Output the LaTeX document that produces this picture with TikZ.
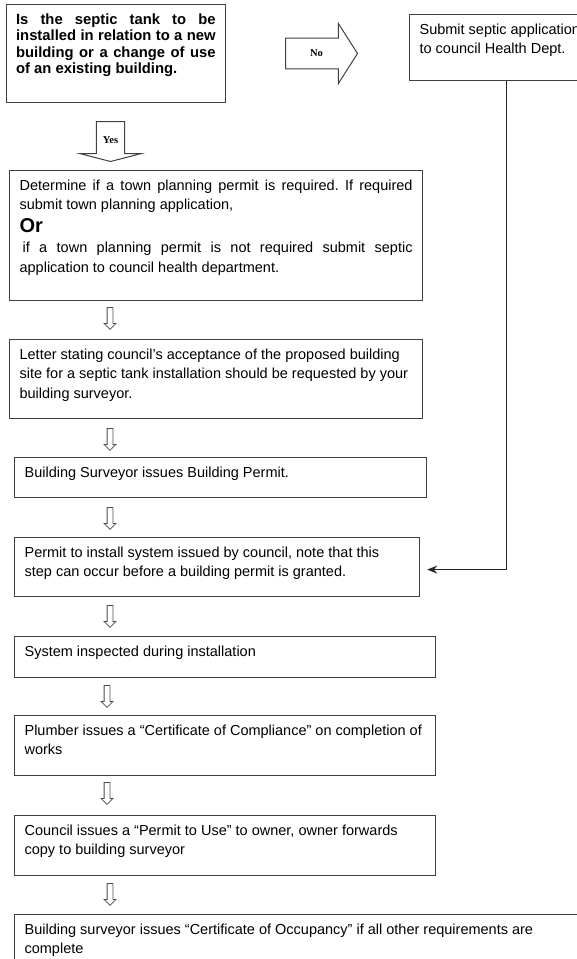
\documentclass[tikz,border=0pt]{standalone}
\usepackage{fontspec}
\setmainfont{Liberation Sans}
\newfontfamily\arrowfont{Liberation Serif}
\usetikzlibrary{shapes.arrows,arrows.meta}
\frenchspacing

% box text: outer width, outer height, text
\newcommand{\steptext}[3]{\parbox[t][\dimexpr#2pt-18pt\relax][t]{\dimexpr#1pt-20pt\relax}{#3}}

\tikzset{
  stepbox/.style={draw=black!75, line width=1.2pt, anchor=north west, inner xsep=10pt, inner ysep=9pt,
    font=\fontsize{14.5}{19.5}\selectfont},
  hollowdown/.style={single arrow, draw=black!70, line width=0.8pt, shape border rotate=270,
    minimum height=22pt, inner sep=2.5pt, single arrow head extend=3pt, anchor=tail},
  bigarrow/.style={single arrow, draw=black!75, line width=1pt, anchor=tail,
    font=\arrowfont\bfseries\fontsize{10.5}{12}\selectfont},
  link/.style={draw=black!85, line width=1.5pt, -{Stealth[length=10pt,width=8pt]}},
}

\begin{document}
\begin{tikzpicture}[x=1pt,y=1pt]
\useasboundingbox (0,0) rectangle (576,-959);

\node[stepbox] (ask) at (5.5,-4) {\steptext{219.5}{98}{\bfseries\fontsize{14.8}{16.5}\selectfont
  Is the septic tank to be\linebreak installed in relation to a new\linebreak
  building or a change of use\linebreak of an existing building.}};
\node[stepbox] (health) at (409,-14) {\steptext{194}{66}{Submit septic application\\ to council Health Dept.}};

\node[bigarrow, minimum height=72pt, inner xsep=3pt, inner ysep=11.5pt,
  single arrow head extend=14.5pt, single arrow tip angle=115] (no) at (285,-53.5) {No};
\node[bigarrow, shape border rotate=270, minimum height=40pt, inner xsep=6pt, inner ysep=4pt,
  single arrow head extend=16.5pt, single arrow tip angle=151] (yes) at (110.5,-121) {Yes};

\node[stepbox] (planning) at (9,-170) {\steptext{413}{130}{%
  Determine if a town planning permit is required. If required\linebreak
  submit town planning application,\\[3pt]
  {\bfseries\fontsize{20}{22}\selectfont Or}\\[1pt]
  \hspace*{3pt}if a town planning permit is not required submit septic\linebreak
  application to council health department.}};
\node[stepbox] (letter) at (9,-339) {\steptext{413}{79}{%
  Letter stating council’s acceptance of the proposed building\\
  site for a septic tank installation should be requested by your\\
  building surveyor.}};
\node[stepbox] (bpermit) at (14,-457) {\steptext{412}{40}{Building Surveyor issues Building Permit.}};
\node[stepbox] (install) at (14,-537) {\steptext{405}{59}{%
  Permit to install system issued by council, note that this\\
  step can occur before a building permit is granted.}};
\node[stepbox] (inspect) at (14,-636) {\steptext{421}{41}{System inspected during installation}};
\node[stepbox] (plumber) at (14,-715) {\steptext{421}{60}{%
  Plumber issues a “Certificate of Compliance” on completion of\\ works}};
\node[stepbox] (use) at (14,-815) {\steptext{421}{60}{%
  Council issues a “Permit to Use” to owner, owner forwards\\ copy to building surveyor}};
\node[stepbox] (occupancy) at (14,-914) {\steptext{600}{60}{%
  Building surveyor issues “Certificate of Occupancy” if all other requirements are\\ complete}};

% small arrows between the steps
\foreach \x/\y/\name in {110/307/d1, 110/428/d2, 110/507/d3, 110/605/d4, 107/685/d5, 107/782/d6, 110/883/d7}
  \node[hollowdown] (\name) at (\x,-\y) {};

\draw[link] (health.south) |- ([xshift=7pt,yshift=-2.5pt]install.east);
\end{tikzpicture}
\end{document}
